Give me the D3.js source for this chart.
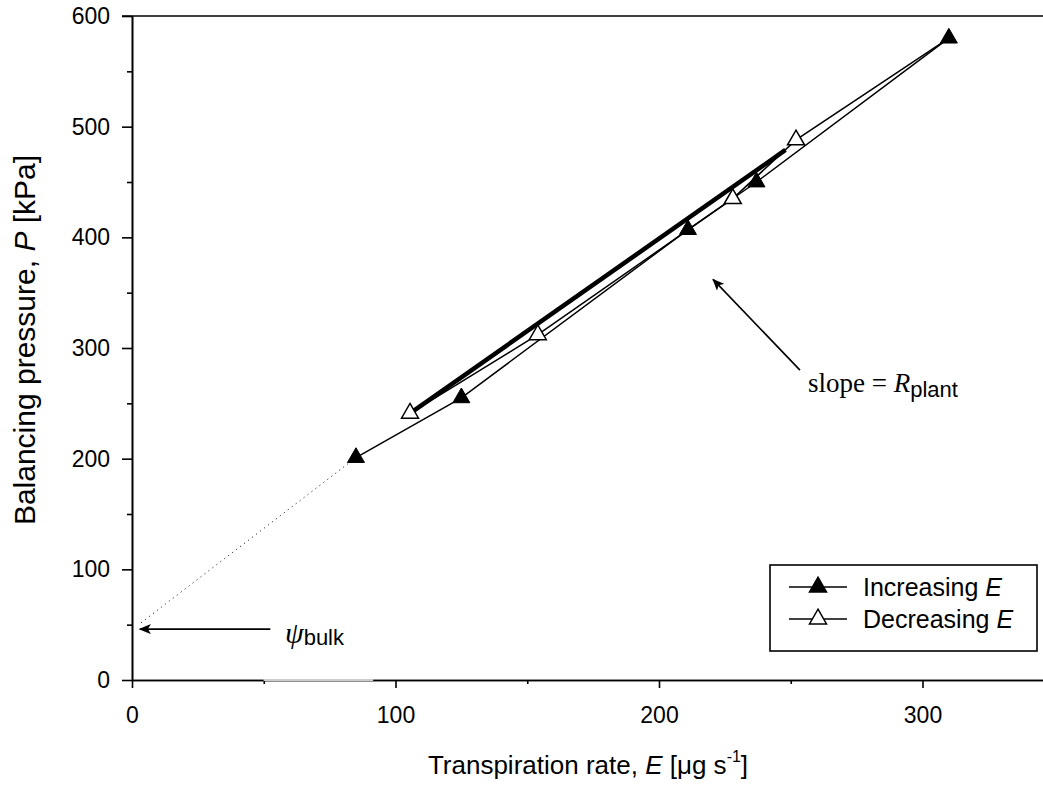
<!DOCTYPE html>
<html>
<head>
<meta charset="utf-8">
<script src="https://cdn.jsdelivr.net/npm/d3@7"></script>
<style>
  body { margin: 0; background: #fff; }
  text { font-family: "Liberation Sans", Arial, sans-serif; fill: #000; }
  .serif { font-family: "Liberation Serif", "Times New Roman", serif; }
</style>
</head>
<body>
<div id="chart"></div>
<script>
// increasing E (filled triangles)
var incE = [85, 125, 211, 237, 310];
var incP = [201, 255, 407, 450, 580];
// decreasing E (open triangles)
var decE = [310, 252, 228, 154, 105.5];
var decP = [580, 488, 435, 312, 241];
// fitted line through the loop, and its extrapolation to E = 0
var fitE = [105.5, 248];
var fitP = [241, 479];
var extE = [85, 2.5];
var extP = [201, 50];
var xMajor = [0, 100, 200, 300];
var xMinor = [50, 150, 250, 350];
var yMajor = [0, 100, 200, 300, 400, 500, 600];
var yMinor = [50, 150, 250, 350, 450, 550];

var width = 1043, height = 793;

var x = d3.scaleLinear().domain([0, 350]).range([132, 132 + 350 * 2.635]);
var y = d3.scaleLinear().domain([0, 600]).range([680, 16]);

var svg = d3.select("#chart").append("svg")
    .attr("width", width).attr("height", height);

// axes
svg.append("g").attr("transform", "translate(0," + y(0) + ")")
    .call(d3.axisBottom(x).tickValues(xMajor).tickSize(8).tickPadding(19).tickSizeOuter(0));
svg.append("g").attr("transform", "translate(0," + y(0) + ")")
    .call(d3.axisBottom(x).tickValues(xMinor).tickSize(4).tickFormat("").tickSizeOuter(0));
svg.append("g").attr("transform", "translate(" + x(0) + ",0)")
    .call(d3.axisLeft(y).tickValues(yMajor).tickSize(10).tickPadding(12).tickSizeOuter(0));
svg.append("g").attr("transform", "translate(" + x(0) + ",0)")
    .call(d3.axisLeft(y).tickValues(yMinor).tickSize(5).tickFormat("").tickSizeOuter(0));

svg.selectAll(".domain, .tick line").attr("stroke", "#000").attr("stroke-width", 1.6);
svg.selectAll(".tick text").style("font-size", "23px").style("font-family", "Liberation Sans, Arial, sans-serif");

// top frame line
svg.append("line").attr("x1", x(0) - 10).attr("x2", width).attr("y1", y(600)).attr("y2", y(600))
    .attr("stroke", "#000").attr("stroke-width", 1.6);

// grey patch on the bottom axis
svg.append("line").attr("x1", x(50)).attr("x2", x(91.5)).attr("y1", y(0)).attr("y2", y(0))
    .attr("stroke", "#fff").attr("stroke-width", 2);
svg.append("line").attr("x1", x(50)).attr("x2", x(91.5)).attr("y1", y(0)).attr("y2", y(0))
    .attr("stroke", "#999").attr("stroke-width", 1);

var line = d3.line().x(function(d) { return x(d[0]); }).y(function(d) { return y(d[1]); });

// dotted extrapolation
svg.append("path").attr("d", line(d3.zip(extE, extP)))
    .attr("fill", "none").attr("stroke", "#000").attr("stroke-width", 1).attr("stroke-dasharray", "1,4");

// fitted line (thick)
svg.append("path").attr("d", line(d3.zip(fitE, fitP)))
    .attr("fill", "none").attr("stroke", "#000").attr("stroke-width", 4.5);

svg.append("path").attr("d", line(d3.zip(decE, decP)))
    .attr("fill", "none").attr("stroke", "#000").attr("stroke-width", 1.5);
svg.append("path").attr("d", line(d3.zip(incE, incP)))
    .attr("fill", "none").attr("stroke", "#000").attr("stroke-width", 1.5);

var tri = d3.symbol().type(d3.symbolTriangle).size(125);

svg.selectAll(".dec").data(d3.zip(decE, decP).slice(1)).enter().append("path")
    .attr("transform", function(d) { return "translate(" + x(d[0]) + "," + y(d[1]) + ")"; })
    .attr("d", tri).attr("fill", "#fff").attr("stroke", "#000").attr("stroke-width", 1.5);
svg.selectAll(".inc").data(d3.zip(incE, incP)).enter().append("path")
    .attr("transform", function(d) { return "translate(" + x(d[0]) + "," + y(d[1]) + ")"; })
    .attr("d", tri).attr("fill", "#000").attr("stroke", "#000").attr("stroke-width", 1);

// arrows
var defs = svg.append("defs");
defs.append("marker").attr("id", "head").attr("viewBox", "0 0 12 10")
    .attr("refX", 11).attr("refY", 5).attr("markerWidth", 12).attr("markerHeight", 10)
    .attr("markerUnits", "userSpaceOnUse").attr("orient", "auto")
    .append("path").attr("d", "M0,0 L12,5 L0,10 L3,5 Z").attr("fill", "#000");

svg.append("line").attr("x1", x(52.5)).attr("y1", y(46)).attr("x2", x(3)).attr("y2", y(46))
    .attr("stroke", "#000").attr("stroke-width", 1.6).attr("marker-end", "url(#head)");
svg.append("line").attr("x1", x(253.5)).attr("y1", y(280)).attr("x2", x(220.5)).attr("y2", y(362))
    .attr("stroke", "#000").attr("stroke-width", 1.6).attr("marker-end", "url(#head)");

// annotations
var psi = svg.append("text").attr("x", 285).attr("y", 643);
psi.append("tspan").attr("class", "serif").style("font-style", "italic").style("font-size", "30px").text("ψ");
psi.append("tspan").attr("dy", 2).style("font-size", "22px").text("bulk");

var sl = svg.append("text").attr("x", 808).attr("y", 392);
sl.append("tspan").attr("class", "serif").style("font-size", "27px").text("slope = ");
sl.append("tspan").attr("class", "serif").style("font-style", "italic").style("font-size", "27px").text("R");
sl.append("tspan").attr("dy", 5).style("font-size", "22px").text("plant");

// axis titles
var xt = svg.append("text").attr("x", 588).attr("y", 774).attr("text-anchor", "middle").style("font-size", "26px");
xt.append("tspan").text("Transpiration rate, ");
xt.append("tspan").style("font-style", "italic").text("E");
xt.append("tspan").text(" [μg s");
xt.append("tspan").attr("dy", -12).style("font-size", "16px").text("-1");
xt.append("tspan").attr("dy", 12).text("]");

var yt = svg.append("text").attr("transform", "translate(35,340) rotate(-90)")
    .attr("text-anchor", "middle").style("font-size", "30px");
yt.append("tspan").text("Balancing pressure, ");
yt.append("tspan").style("font-style", "italic").text("P");
yt.append("tspan").text(" [kPa]");

// legend
var lg = svg.append("g");
lg.append("rect").attr("x", 770).attr("y", 565).attr("width", 267).attr("height", 86)
    .attr("fill", "#fff").attr("stroke", "#000").attr("stroke-width", 1.6);
var items = [["Increasing ", "#000"], ["Decreasing ", "#fff"]];
items.forEach(function(it, i) {
  var cy = 587 + i * 32;
  lg.append("line").attr("x1", 789).attr("x2", 847).attr("y1", cy).attr("y2", cy)
      .attr("stroke", "#000").attr("stroke-width", 1.5);
  lg.append("path").attr("transform", "translate(818," + cy + ")").attr("d", tri)
      .attr("fill", it[1]).attr("stroke", "#000").attr("stroke-width", 1.5);
  var t = lg.append("text").attr("x", 863).attr("y", cy + 9).style("font-size", "25px");
  t.append("tspan").text(it[0]);
  t.append("tspan").style("font-style", "italic").text("E");
});
</script>
</body>
</html>
